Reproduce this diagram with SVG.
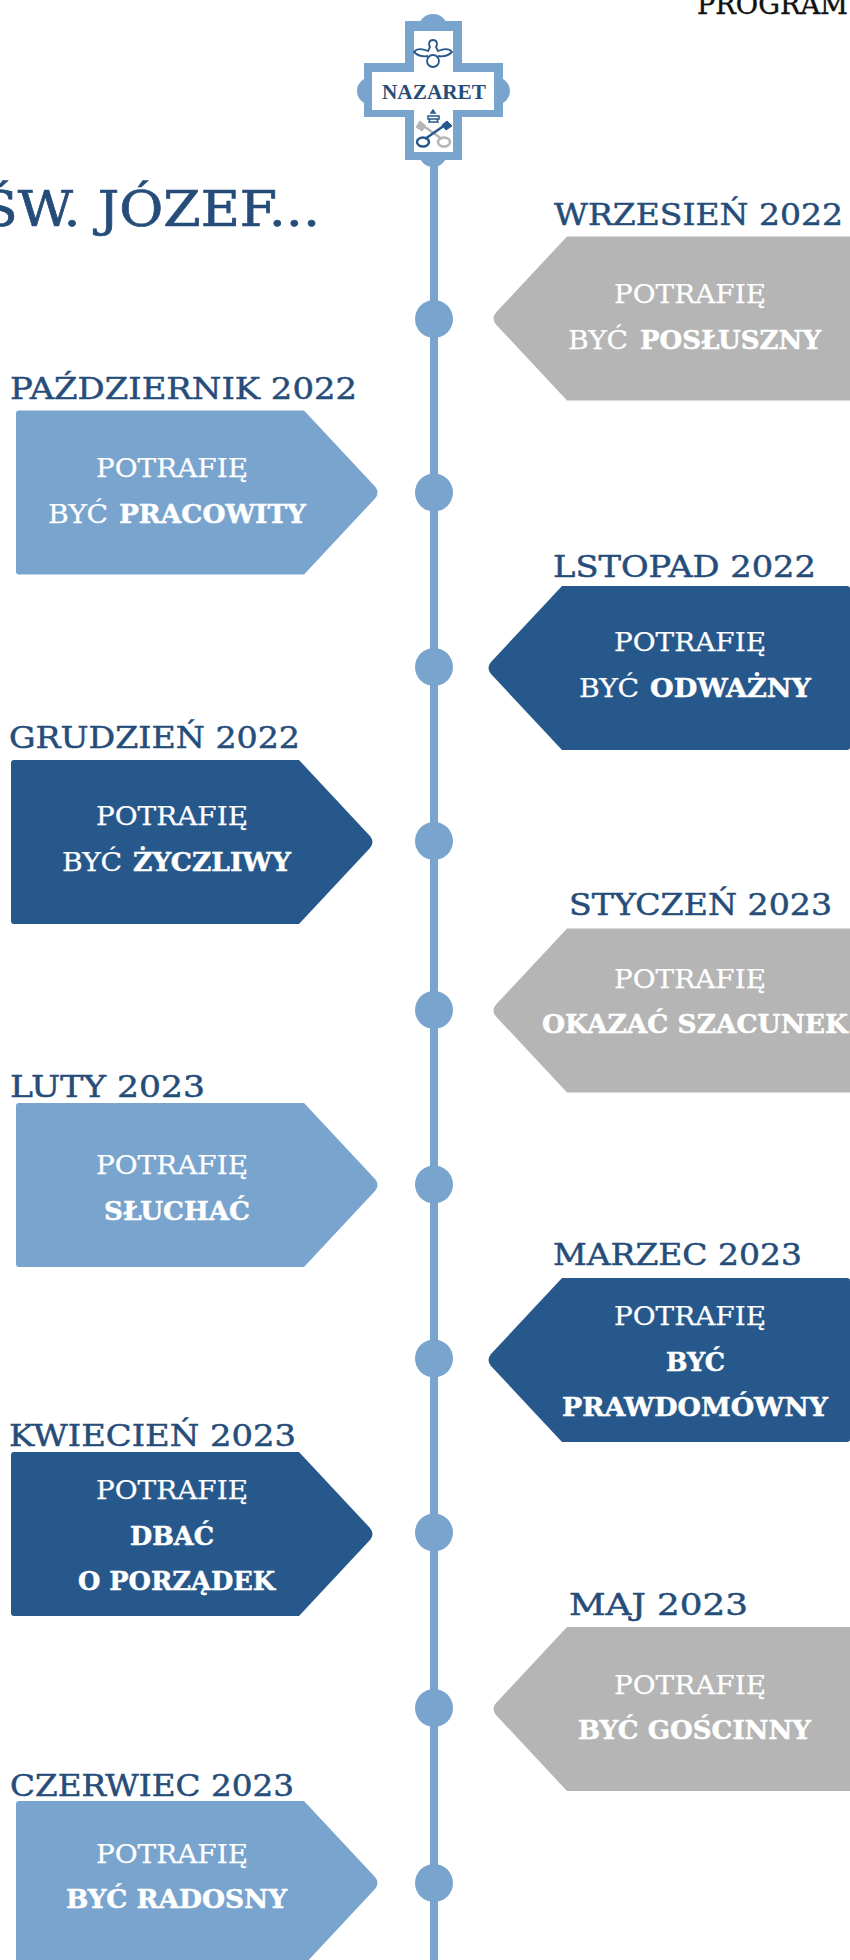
<svg xmlns="http://www.w3.org/2000/svg" xmlns:xlink="http://www.w3.org/1999/xlink" width="850" height="1960" viewBox="0 0 850 1960">
<style>
.lab{font:400 30px "DejaVu Serif",serif;fill:#264d7a;stroke:#264d7a;stroke-width:.5px}
.t{font:400 26px "DejaVu Serif",serif;fill:#fff;stroke:#fff;stroke-width:.25px}
.b{font:700 26px "DejaVu Serif",serif;fill:#fff;stroke:#fff;stroke-width:.5px}
.blue{fill:#78a4ce}.dark{fill:#27588b}.grey{fill:#b4b5b4}
</style>
<defs>
<path id="arrow" d="M3,-82H288L359,-6Q364,0 359,6L288,82H3Q0,82 0,79V-79Q0,-82 3,-82Z"/>
</defs>
<rect width="850" height="1960" fill="#fff"/>
<g id="connectors">
<rect x="430" y="150" width="8" height="1810" class="blue"/>
</g>
<g id="dots" class="blue">
<circle cx="434" cy="319" r="19"/><circle cx="434" cy="492.500" r="19"/><circle cx="434" cy="667" r="19"/><circle cx="434" cy="841" r="19"/><circle cx="434" cy="1010" r="19"/><circle cx="434" cy="1184.500" r="19"/><circle cx="434" cy="1358.500" r="19"/><circle cx="434" cy="1532.500" r="19"/><circle cx="434" cy="1708" r="19"/><circle cx="434" cy="1883" r="19"/>
</g>
<g id="logo">
<circle cx="433" cy="29" r="15" class="blue"/><circle cx="433" cy="153" r="14" class="blue"/>
<ellipse cx="372" cy="91" rx="15" ry="14" class="blue"/><ellipse cx="495" cy="91" rx="15" ry="14" class="blue"/>
<path class="blue" d="M405,21H462V63H503V117H462V160H405V117H364V63H405Z"/>
<path fill="#fff" d="M414,31H453V72H494V110H453V152H414V110H372V72H414Z"/>
<text x="382" y="98.500" textLength="104" lengthAdjust="spacingAndGlyphs" style="font:700 21px 'Liberation Serif',serif;fill:#264d7a">NAZARET</text>
<g fill="none" stroke="#27588b" stroke-width="1.800">
<path d="M433,40c-4,0-5,4-3,7l-2,4c-5-2-11-3-14,1c4,4 9,5 14,4M433,40c4,0 5,4 3,7l2,4c5-2 11-3 14,1c-4,4-9,5-14,4"/>
<circle cx="433" cy="61" r="6"/>
<path d="M428,116h11v3h-11zM429,122h9l-1,-3h-7zM431,113l2,-3l2,3z" stroke-width="1.500"/>
</g>
<g fill="none" stroke="#b4b5b4" stroke-width="2.500">
<path d="M442,139l-20-14"/>
<path d="M420,121l-4,6l6,4l4-5z" fill="#b4b5b4" stroke-width="1"/>
<ellipse cx="444" cy="142" rx="6" ry="4.500"/>
</g>
<g fill="none" stroke="#27588b" stroke-width="2.500">
<path d="M425,139l20-14"/>
<path d="M447,121l5,5l-6,4l-4-5z" fill="#27588b" stroke-width="1"/>
<ellipse cx="423" cy="142" rx="6" ry="4.500"/>
</g>
</g>
<g id="heading"><text x="697" y="14" textLength="151" lengthAdjust="spacingAndGlyphs" style="font:400 27px 'DejaVu Serif',serif;fill:#111;stroke:#111;stroke-width:.4px">PROGRAM</text>
<text x="-19" y="226" textLength="339" lengthAdjust="spacingAndGlyphs" style="font:400 49px 'DejaVu Serif',serif;fill:#264d7a;stroke:#264d7a;stroke-width:.7px">ŚW. JÓZEF...</text></g>

<g id="wrzesien"><text class="lab" x="554" y="225" textLength="289" lengthAdjust="spacingAndGlyphs">WRZESIEŃ 2022</text><use xlink:href="#arrow" href="#arrow" class="grey" transform="translate(855,318.500) scale(-1,1)"/>
<text class="t" x="614" y="303" textLength="152" lengthAdjust="spacingAndGlyphs">POTRAFIĘ</text>
<text class="t" x="568" y="349" textLength="60" lengthAdjust="spacingAndGlyphs">BYĆ</text><text class="b" x="640" y="349" textLength="181" lengthAdjust="spacingAndGlyphs">POSŁUSZNY</text></g>

<g id="pazdziernik"><text class="lab" x="10" y="399" textLength="347" lengthAdjust="spacingAndGlyphs">PAŹDZIERNIK 2022</text><use href="#arrow" class="blue" transform="translate(16,492.500)"/>
<text class="t" x="96" y="477" textLength="152" lengthAdjust="spacingAndGlyphs">POTRAFIĘ</text>
<text class="t" x="48" y="523" textLength="60" lengthAdjust="spacingAndGlyphs">BYĆ</text><text class="b" x="119" y="523" textLength="187" lengthAdjust="spacingAndGlyphs">PRACOWITY</text></g>

<g id="listopad"><text class="lab" x="553" y="577" textLength="263" lengthAdjust="spacingAndGlyphs">LSTOPAD 2022</text><use href="#arrow" class="dark" transform="translate(850,668) scale(-1,1)"/>
<text class="t" x="614" y="651" textLength="152" lengthAdjust="spacingAndGlyphs">POTRAFIĘ</text>
<text class="t" x="579" y="697" textLength="60" lengthAdjust="spacingAndGlyphs">BYĆ</text><text class="b" x="650" y="697" textLength="161" lengthAdjust="spacingAndGlyphs">ODWAŻNY</text></g>

<g id="grudzien"><text class="lab" x="9" y="748" textLength="291" lengthAdjust="spacingAndGlyphs">GRUDZIEŃ 2022</text><use href="#arrow" class="dark" transform="translate(11,842)"/>
<text class="t" x="96" y="825" textLength="152" lengthAdjust="spacingAndGlyphs">POTRAFIĘ</text>
<text class="t" x="62" y="871" textLength="60" lengthAdjust="spacingAndGlyphs">BYĆ</text><text class="b" x="133" y="871" textLength="158" lengthAdjust="spacingAndGlyphs">ŻYCZLIWY</text></g>

<g id="styczen"><text class="lab" x="569" y="915" textLength="263" lengthAdjust="spacingAndGlyphs">STYCZEŃ 2023</text><use href="#arrow" class="grey" transform="translate(855,1010.500) scale(-1,1)"/>
<text class="t" x="614" y="988" textLength="152" lengthAdjust="spacingAndGlyphs">POTRAFIĘ</text>
<text class="b" x="542" y="1033" textLength="306" lengthAdjust="spacingAndGlyphs">OKAZAĆ SZACUNEK</text></g>

<g id="luty"><text class="lab" x="10" y="1097" textLength="195" lengthAdjust="spacingAndGlyphs">LUTY 2023</text><use href="#arrow" class="blue" transform="translate(16,1185)"/>
<text class="t" x="96" y="1174" textLength="152" lengthAdjust="spacingAndGlyphs">POTRAFIĘ</text>
<text class="b" x="104" y="1220" textLength="146" lengthAdjust="spacingAndGlyphs">SŁUCHAĆ</text></g>

<g id="marzec"><text class="lab" x="553" y="1265" textLength="249" lengthAdjust="spacingAndGlyphs">MARZEC 2023</text><use href="#arrow" class="dark" transform="translate(850,1360) scale(-1,1)"/>
<text class="t" x="614" y="1325" textLength="152" lengthAdjust="spacingAndGlyphs">POTRAFIĘ</text>
<text class="b" x="666" y="1371" textLength="59" lengthAdjust="spacingAndGlyphs">BYĆ</text>
<text class="b" x="562" y="1416" textLength="266" lengthAdjust="spacingAndGlyphs">PRAWDOMÓWNY</text></g>

<g id="kwiecien"><text class="lab" x="9" y="1446" textLength="287" lengthAdjust="spacingAndGlyphs">KWIECIEŃ 2023</text><use href="#arrow" class="dark" transform="translate(11,1534)"/>
<text class="t" x="96" y="1499" textLength="152" lengthAdjust="spacingAndGlyphs">POTRAFIĘ</text>
<text class="b" x="130" y="1545" textLength="84" lengthAdjust="spacingAndGlyphs">DBAĆ</text>
<text class="b" x="78" y="1590" textLength="197" lengthAdjust="spacingAndGlyphs">O PORZĄDEK</text></g>

<g id="maj"><text class="lab" x="569" y="1615" textLength="179" lengthAdjust="spacingAndGlyphs">MAJ 2023</text><use href="#arrow" class="grey" transform="translate(855,1709) scale(-1,1)"/>
<text class="t" x="614" y="1694" textLength="152" lengthAdjust="spacingAndGlyphs">POTRAFIĘ</text>
<text class="b" x="578" y="1739" textLength="233" lengthAdjust="spacingAndGlyphs">BYĆ GOŚCINNY</text></g>

<g id="czerwiec"><text class="lab" x="10" y="1796" textLength="284" lengthAdjust="spacingAndGlyphs">CZERWIEC 2023</text><use href="#arrow" class="blue" transform="translate(16,1883)"/>
<text class="t" x="96" y="1863" textLength="152" lengthAdjust="spacingAndGlyphs">POTRAFIĘ</text>
<text class="b" x="66" y="1908" textLength="221" lengthAdjust="spacingAndGlyphs">BYĆ RADOSNY</text></g>
</svg>
